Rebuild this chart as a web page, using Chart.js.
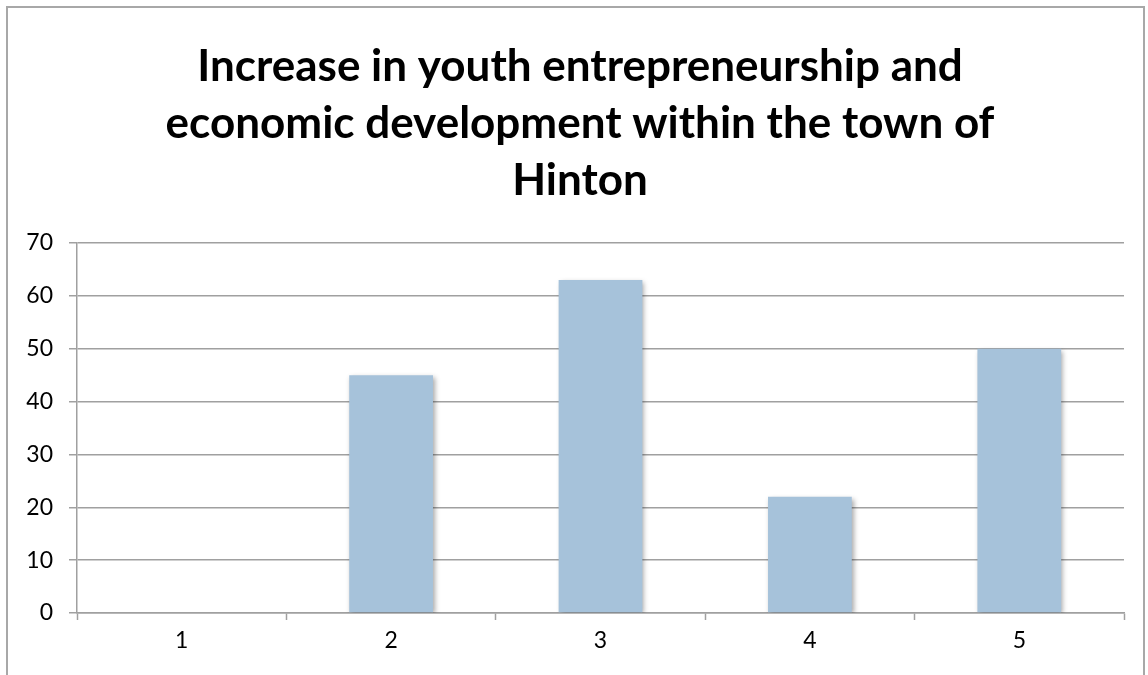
<!DOCTYPE html>
<html>
<head>
<meta charset="utf-8">
<script src="https://cdn.jsdelivr.net/npm/chart.js@4.4.1/dist/chart.umd.min.js"></script>
<style>
  html, body { margin: 0; padding: 0; background: #fff; }
  #wrap { position: relative; width: 1148px; height: 675px; overflow: hidden; }
  #frame {
    position: absolute; left: 6px; top: 6px; width: 1139px; height: 700px;
    border: 2px solid #a8a8a8; box-sizing: border-box;
  }
  #myChart { position: absolute; left: 0; top: 0; }
</style>
</head>
<body>
<div id="wrap">
  <div id="frame"></div>
  <canvas id="myChart" width="1148" height="675"></canvas>
</div>
<script>
const categories = [ '1', '2', '3', '4', '5' ]
const values = [ 0, 45, 63, 22, 50 ]
const titleLines = [
  'Increase in youth entrepreneurship and',
  'economic development within the town of',
  'Hinton'
]

const ctx = document.getElementById('myChart')

// soft drop shadow behind the bars
const barShadow = {
  id: 'barShadow',
  beforeDatasetsDraw(chart) {
    const c = chart.ctx
    c.save()
    c.shadowColor = 'rgba(0, 0, 0, 0.35)'
    c.shadowBlur = 5
    c.shadowOffsetX = 2
    c.shadowOffsetY = 2
  },
  afterDatasetsDraw(chart) {
    chart.ctx.restore()
  }
}

// three line title, centred a little left of the plot area
const chartTitle = {
  id: 'chartTitle',
  afterDraw(chart) {
    const c = chart.ctx
    c.save()
    c.fillStyle = '#000'
    c.font = 'bold 44px Lato'
    c.textAlign = 'center'
    c.textBaseline = 'alphabetic'
    titleLines.forEach((line, i) => {
      c.fillText(line, 580, 81 + i * 57)
    })
    c.restore()
  }
}

new Chart(ctx, {
  type: 'bar',
  data: {
    labels: categories,
    datasets: [{
      data: values,
      backgroundColor: '#a6c2da',
      borderWidth: 0,
      barPercentage: 0.4,
      categoryPercentage: 1
    }]
  },
  options: {
    responsive: false,
    animation: false,
    layout: { padding: { left: 6, right: 24, top: 243, bottom: 0 } },
    plugins: {
      legend: { display: false },
      tooltip: { enabled: false },
      title: { display: false }
    },
    scales: {
      x: {
        afterFit(scale) { scale.height = 62 },
        grid: {
          offset: true,
          drawOnChartArea: false,
          drawTicks: true,
          tickLength: 7,
          tickWidth: 1.5,
          tickColor: '#a0a0a0'
        },
        border: { color: '#a0a0a0', width: 1.5 },
        ticks: {
          color: '#000',
          padding: 7,
          font: { family: 'Lato', size: 23 }
        }
      },
      y: {
        min: 0,
        max: 70,
        afterFit(scale) { scale.width = 71 },
        grid: {
          color: '#a0a0a0',
          lineWidth: 1.5,
          tickLength: 8
        },
        border: { color: '#a0a0a0', width: 1.5 },
        ticks: {
          stepSize: 10,
          color: '#000',
          padding: 16,
          font: { family: 'Lato', size: 23 }
        }
      }
    }
  },
  plugins: [ barShadow, chartTitle ]
})
</script>
</body>
</html>
